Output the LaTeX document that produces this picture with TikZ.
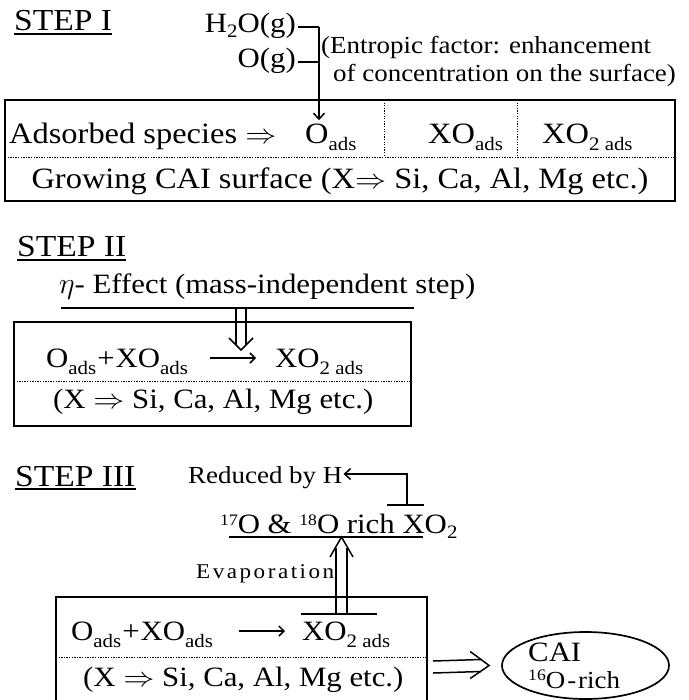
\documentclass[tikz,border=0pt]{standalone}
\usepackage{fontspec}
\setmainfont{Liberation Serif}[FakeStretch=1.1]
\usetikzlibrary{arrows.meta,calc,shapes.geometric}
% font sizes
\newcommand\stepsz{\fontsize{30.5}{34}\selectfont}
\newcommand\bigsz{\fontsize{29.5}{33}\selectfont}
\newcommand\regsz{\fontsize{28}{32}\selectfont}
\newcommand\annsz{\fontsize{24.5}{28}\selectfont}
\newcommand\lowsz{\fontsize{19}{19}\selectfont}
\newcommand\supsz{\fontsize{16}{16}\selectfont}
\newcommand\evsz{\fontsize{21}{24}\selectfont\addfontfeatures{LetterSpace=12}}
% lowered and raised indices
\newcommand\dn[1]{\raisebox{-7pt}{\lowsz #1}}
\newcommand\dnn[1]{\raisebox{-5pt}{\lowsz #1}}
\newcommand\up[1]{\raisebox{8pt}{\supsz #1}}
% implication sign, a little wider than the plain one
\newcommand\impl{\scalebox{1.25}[1.1]{$\Rightarrow$}}
\begin{document}
\begin{tikzpicture}[x=1pt,y=-1pt,
  txt/.style={inner sep=0pt, anchor=base west, font=\regsz},
  ann/.style={txt, font=\annsz},
  steplbl/.style={txt, font=\stepsz},
  boxline/.style={line width=1.9pt},
  dots/.style={line width=0.9pt, dash pattern=on 1.3pt off 1.3pt},
  link/.style={line width=1.5pt},
  barb/.style={-{Straight Barb[length=6pt,width=11pt]}},
  rxn/.style={link, -{Straight Barb[length=5pt,width=10pt]}},
  underl/.style={line width=1.4pt}]
\useasboundingbox (0,0) rectangle (688,700);

% ---------- STEP I ----------
\node[steplbl] (s1) at (14,31) {STEP I};
\draw[underl] ([yshift=-3pt]s1.base west) -- ([yshift=-3pt]s1.base east);

\node[txt, anchor=base east] (h2o) at (296,33) {H\dnn{2}O(g)};
\node[txt, anchor=base east] (og) at (296,68) {O(g)};
\coordinate (j1) at (319,27);
\coordinate (j2) at (319,62);
\node[ann] (ent1) at (321,54) {(Entropic factor: enhancement};
\node[ann] (ent2) at (333,82) {of concentration on the surface)};

\draw[boxline] (5,100) rectangle (675,201);
\draw[dots] (5,157) -- (675,157);
\draw[dots] (384,100) -- (384,157);
\draw[dots] (517,100) -- (517,157);

\node[txt, font=\bigsz] (ads) at (9,144) {Adsorbed species \impl};
\node[txt, font=\bigsz] (oads) at (305,144) {O\dn{ads}};
\node[txt, font=\bigsz] (xoads) at (428,144) {XO\dn{ads}};
\node[txt, font=\bigsz] (xo2ads) at (542,144) {XO\dn{2 ads}};
\node[txt, font=\bigsz, anchor=base] (grow) at (340,189)
  {Growing CAI surface (X\impl\ Si, Ca, Al, Mg etc.)};

\draw[link] ([xshift=2pt]h2o.east |- j1) -- (j1);
\draw[link] ([xshift=2pt]og.east |- j2) -- (j2);
\draw[link, barb] (j1) -- ([yshift=4pt]j1 |- oads.north);

% ---------- STEP II ----------
\node[steplbl] (s2) at (17,257) {STEP II};
\draw[underl] ([yshift=-3pt]s2.base west) -- ([yshift=-3pt]s2.base east);

\node[txt] (eta) at (59,293) {\scalebox{1.2}{$\eta$}- Effect (mass-independent step)};
\coordinate (u2a) at (61,308);
\coordinate (u2b) at (414,308);
\draw[underl] (u2a) -- (u2b);

\coordinate (d2l) at (236,308);
\coordinate (d2r) at (246,308);
\coordinate (d2tip) at (241,350);
\draw[link] (d2l) -- ++(0,37);
\draw[link] (d2r) -- ++(0,37);
\draw[link] ($(d2tip)+(-12,-12)$) -- (d2tip) -- ($(d2tip)+(12,-12)$);

\draw[boxline] (14,322) rectangle (411,426);
\draw[dots] (14,381) -- (411,381);
\node[txt] (r2a) at (46,367) {O\dn{ads}\kern1pt+\kern1ptXO\dn{ads}};
\node[txt] (r2b) at (275,367) {XO\dn{2 ads}};
\draw[rxn] ($(r2a.base east)+(22,-9)$) -- ($(r2b.base west)+(-19,-9)$);
\node[txt] (r2c) at (53,408) {(X \impl\ Si, Ca, Al, Mg etc.)};

% ---------- STEP III ----------
\node[steplbl] (s3) at (15,486) {STEP III};
\draw[underl] ([yshift=-3pt]s3.base west) -- ([yshift=-3pt]s3.base east);

\node[ann] (red) at (188,483) {Reduced by H};
\coordinate (tb1) at (387,505);
\coordinate (tb2) at (424,505);
\coordinate (tc) at (407,505);
\coordinate (tk) at (407,474);
\draw[link] (tb1) -- (tb2);
\draw[link, barb] (tc) -- (tk) -- ([xshift=1pt]red.east |- tk);

\node[txt] (rich) at (220,533) {\up{17}O \& \up{18}O rich XO\dnn{2}};
\coordinate (u3a) at (229,537);
\coordinate (u3b) at (423,537);
\draw[underl] (u3a) -- (u3b);

\node[txt, font=\evsz] (evap) at (196,578) {Evaporation};

\draw[boxline] (56,597) rectangle (427,701);
\draw[dots] (56,657) -- (427,657);
\coordinate (bar1) at (301,614);
\coordinate (bar2) at (377,614);
\draw[link] (bar1) -- (bar2);

\coordinate (e3l) at (336,614);
\coordinate (e3r) at (347,614);
\coordinate (e3tip) at (341.5,537);
\draw[link] (e3l) -- (336,548);
\draw[link] (e3r) -- (347,548);
\draw[link] ($(e3tip)+(-11.5,20)$) -- (e3tip) -- ($(e3tip)+(11.5,20)$);

\node[txt] (r3a) at (71,640) {O\dn{ads}\kern1pt+\kern1ptXO\dn{ads}};
\node[txt] (r3b) at (302,640) {XO\dn{2 ads}};
\draw[rxn] ($(r3a.base east)+(26,-9)$) -- ($(r3b.base west)+(-17,-9)$);
\node[txt] (r3c) at (83,686) {(X \impl\ Si, Ca, Al, Mg etc.)};

% result: CAI
\node[draw, line width=1.7pt, ellipse, minimum width=167pt, minimum height=67pt,
      inner sep=0pt] (cai) at (585.5,665.5) {};
\node[ann, font=\regsz] (cai1) at (528,661) {CAI};
\node[ann] (cai2) at (528,688) {\up{16}O\kern2pt-\kern2pt rich};

\coordinate (dA) at (433,667);
\coordinate (dB) at ([xshift=-12pt]cai.west);
\draw[link] ($(dA)+(0,-6)$) -- ($(dB)+(-8,-6)$);
\draw[link] ($(dA)+(0,6)$) -- ($(dB)+(-8,6)$);
\draw[link] ($(dB)+(-19,-14)$) -- (dB) -- ($(dB)+(-19,13)$);
\end{tikzpicture}
\end{document}
